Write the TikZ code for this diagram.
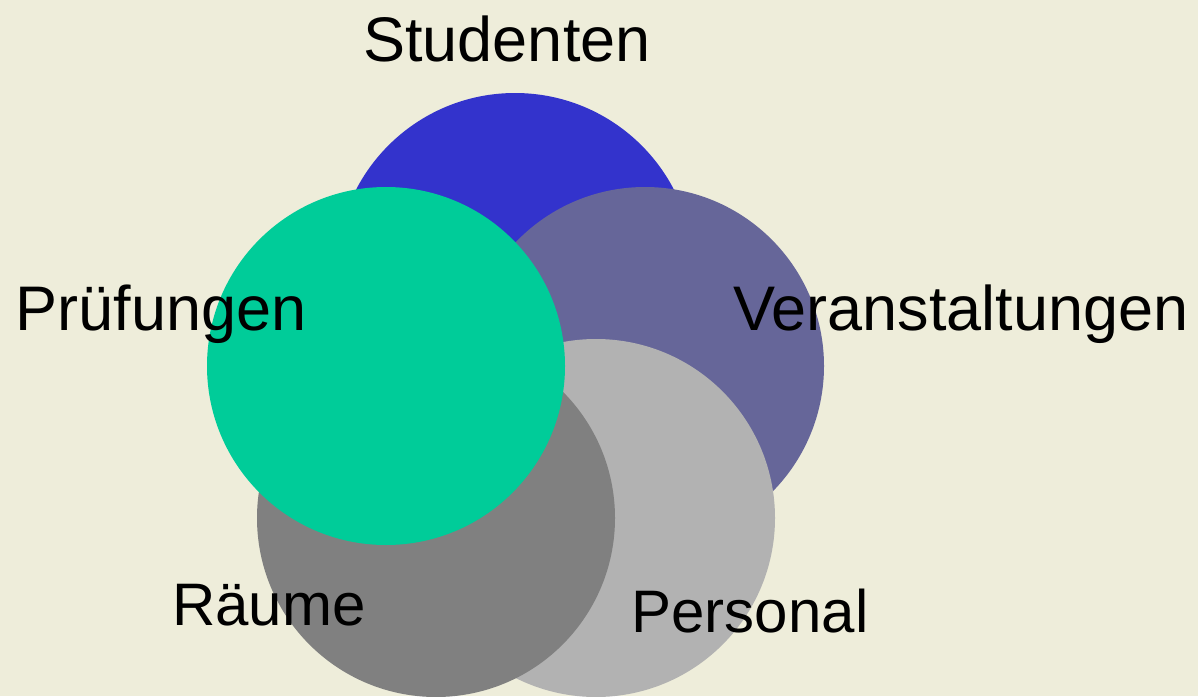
\documentclass[tikz,border=0pt]{standalone}
\usepackage{fontspec}
\setmainfont{Liberation Sans}
\definecolor{bg}{HTML}{EEEDDA}
\definecolor{cblue}{HTML}{3333CC}
\definecolor{cpurple}{HTML}{666699}
\definecolor{clgray}{HTML}{B2B2B2}
\definecolor{cdgray}{HTML}{808080}
\definecolor{cgreen}{HTML}{00CC99}
\begin{document}
\begin{tikzpicture}[x=1pt,y=-1pt,
  disc/.style={circle,minimum size=358pt,inner sep=0pt,draw=none},
  lbl/.style={anchor=base,inner sep=0pt,font=\fontsize{63}{70}\selectfont,text=black},
  lbls/.style={lbl,font=\fontsize{60}{68}\selectfont}]
\fill[bg] (0,0) rectangle (1198,696);
\useasboundingbox (0,0) rectangle (1198,696);
\node[disc,fill=cblue] (stud) at (515,272) {};
\node[disc,fill=cpurple] (veran) at (645,366) {};
\node[disc,fill=clgray] (pers) at (596,518) {};
\node[disc,fill=cdgray] (raum) at (436,518) {};
\node[disc,fill=cgreen] (pruef) at (386,366) {};
\node[lbl] (tstud) at (507,61) {Studenten};
\node[lbl] (tpruef) at (161,330) {Prüfungen};
\node[lbl] (tveran) at (961,330) {Veranstaltungen};
\node[lbls] (traum) at (269,625) {Räume};
\node[lbls] (tpers) at (750,632) {Personal};
\end{tikzpicture}
\end{document}
